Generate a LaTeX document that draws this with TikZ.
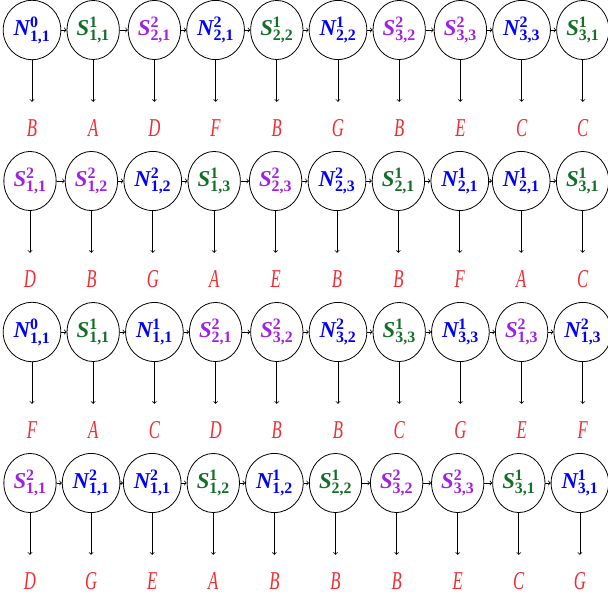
\documentclass[tikz,border=0pt]{standalone}
\usepackage{amsmath}
\usepackage{fontspec}
\setmainfont{Liberation Serif}
\newfontfamily\labfont[FakeStretch=0.65]{Liberation Serif}
\usetikzlibrary{shapes.geometric}
\definecolor{nb}{RGB}{0,0,255}
\definecolor{sg}{RGB}{20,110,40}
\definecolor{sp}{RGB}{160,32,230}
\definecolor{lr}{RGB}{240,45,50}
\newcommand\drawrow[5]{%
 \foreach \cc/\X/\su/\pa/\qa/\lb [count=\n] in {#5}{%
   \node[state,text=\cc] (n#1-\n) at ({#3+(\n-1)*#4},#2) {$\text{\bfseries\itshape\X}^{\text{\bfseries\su}}_{\text{\bfseries\pa,\qa}}$};
   \node[lab] (l#1-\n) at ({#3+(\n-1)*#4},#2+98) {\lb};
   \draw[flow,shorten >=17.5pt] (n#1-\n) -- (l#1-\n);
   \ifnum\n>1 \pgfmathtruncatemacro\m{\n-1}\draw[flow] (n#1-\m) -- (n#1-\n);\fi
 }}
\begin{document}
\begin{tikzpicture}[x=1pt,y=-1pt,
  state/.style={ellipse,draw=black,line width=0.8pt,inner xsep=2pt,inner ysep=7.5pt,font=\fontsize{22.7}{27}\selectfont},
  lab/.style={text=lr,inner sep=0pt,text height=17pt,text depth=0pt,font=\labfont\itshape\fontsize{25.7}{30}\selectfont},
  flow/.style={->,line width=0.8pt}]
\useasboundingbox (0,0) rectangle (608,599);
\drawrow{1}{30}{32}{61.2}{nb/N/0/1/1/B, sg/S/1/1/1/A, sp/S/2/2/1/D, nb/N/2/2/1/F, sg/S/1/2/2/B, nb/N/1/2/2/G, sp/S/2/3/2/B, sp/S/2/3/3/E, nb/N/2/3/3/C, sg/S/1/3/1/C}
\drawrow{2}{181}{30}{61.4}{sp/S/2/1/1/D, sp/S/2/1/2/B, nb/N/2/1/2/G, sg/S/1/1/3/A, sp/S/2/2/3/E, nb/N/2/2/3/B, sg/S/1/2/1/B, nb/N/1/2/1/F, nb/N/1/2/1/A, sg/S/1/3/1/C}
\drawrow{3}{332}{32}{61.2}{nb/N/0/1/1/F, sg/S/1/1/1/A, nb/N/1/1/1/C, sp/S/2/2/1/D, sp/S/2/3/2/B, nb/N/2/3/2/B, sg/S/1/3/3/C, nb/N/1/3/3/G, sp/S/2/1/3/E, nb/N/2/1/3/F}
\drawrow{4}{483}{30}{61.1}{sp/S/2/1/1/D, nb/N/2/1/1/G, nb/N/2/1/1/E, sg/S/1/1/2/A, nb/N/1/1/2/B, sg/S/1/2/2/B, sp/S/2/3/2/B, sp/S/2/3/3/E, sg/S/1/3/1/C, nb/N/1/3/1/G}
\end{tikzpicture}
\end{document}
